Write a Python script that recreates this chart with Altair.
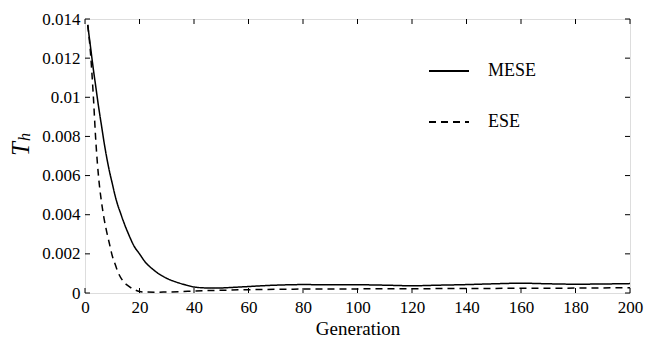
import altair as alt
import pandas as pd

# ---- data ----
mese_gen = [1, 2, 3, 4, 5, 6, 7, 8, 9, 10, 11, 12, 13, 14, 16, 18, 20, 22, 25, 28, 30, 33, 36, 40,
            44, 48, 52, 56, 60, 65, 70, 75, 80, 90, 100, 110, 120, 130, 140, 150, 160, 170, 180,
            190, 200]
mese_val = [0.0137, 0.0126, 0.0115, 0.0105, 0.0095, 0.0086, 0.0077, 0.0069, 0.0062, 0.0056, 0.0050,
            0.0045, 0.0041, 0.0037, 0.0030, 0.0024, 0.0020, 0.0016, 0.0012, 0.0009, 0.00075,
            0.00058, 0.00045, 0.00031, 0.00026, 0.00025, 0.00027, 0.00030, 0.00033, 0.00037,
            0.00040, 0.00042, 0.00043, 0.00042, 0.00042, 0.00040, 0.00037, 0.00040, 0.00043,
            0.00047, 0.00050, 0.00047, 0.00045, 0.00046, 0.00048]

ese_gen = [1, 2, 3, 4, 5, 6, 7, 8, 9, 10, 11, 12, 14, 16, 18, 20, 22, 26, 30, 35, 40, 50, 60, 80,
           100, 120, 140, 160, 180, 200]
ese_val = [0.0137, 0.0123, 0.0102, 0.0077, 0.0059, 0.0047, 0.0038, 0.0031, 0.0025, 0.0019, 0.0015,
           0.0011, 0.0006, 0.00035, 0.00018, 0.00008, 0.00005, 0.00004, 0.00005, 0.00007, 0.0001,
           0.00014, 0.00017, 0.0002, 0.00021, 0.00022, 0.00023, 0.00024, 0.00025, 0.00027]

x_ticks = [0, 20, 40, 60, 80, 100, 120, 140, 160, 180, 200]
y_ticks = [0, 0.002, 0.004, 0.006, 0.008, 0.01, 0.012, 0.014]
series = ["MESE", "ESE"]

W, H = 545, 274
FONT = "Times New Roman"

df = pd.concat([
    pd.DataFrame({"gen": mese_gen, "val": mese_val, "series": series[0]}),
    pd.DataFrame({"gen": ese_gen, "val": ese_val, "series": series[1]}),
])

xs = alt.Scale(domain=[0, 200], nice=False, zero=False)
ys = alt.Scale(domain=[0, 0.014], nice=False)

x_axis = alt.Axis(values=x_ticks, ticks=False, domain=False, grid=False,
                  labelFlush=False, labelOverlap=False,
                  labelFont=FONT, labelFontSize=17, labelColor="black", labelPadding=6,
                  titleFont=FONT, titleFontSize=19, titleFontWeight="normal",
                  titleColor="black", titlePadding=4)
y_axis = alt.Axis(values=y_ticks, ticks=False, domain=False, grid=False, format="~g",
                  labelFlush=False, labelOverlap=False,
                  labelFont=FONT, labelFontSize=17, labelColor="black", labelPadding=5)

lines = alt.Chart(df).mark_line(strokeWidth=1.5, color="black", interpolate="monotone").encode(
    x=alt.X("gen:Q", scale=xs, title="Generation", axis=x_axis),
    y=alt.Y("val:Q", scale=ys, title=None, axis=y_axis),
    strokeDash=alt.StrokeDash("series:N", scale=alt.Scale(domain=series, range=[[1, 0], [7, 5]]),
                              legend=alt.Legend(title=None, orient="none", legendX=343, legendY=31,
                                                symbolType="stroke", symbolSize=1600,
                                                symbolStrokeWidth=2, symbolStrokeColor="black",
                                                labelFont=FONT, labelFontSize=18, labelColor="black",
                                                labelOffset=18, rowPadding=21, padding=0)),
)

xt = pd.DataFrame({"t": x_ticks})
yt = pd.DataFrame({"t": y_ticks})
tick_style = dict(color="black", strokeWidth=1)
xb = alt.Chart(xt).mark_rule(**tick_style).encode(
    x=alt.X("t:Q", scale=xs, title="Generation", axis=x_axis), y=alt.value(H), y2=alt.value(H - 5))
xtp = alt.Chart(xt).mark_rule(**tick_style).encode(
    x=alt.X("t:Q", scale=xs, title="Generation", axis=x_axis), y=alt.value(0), y2=alt.value(5))
yl = alt.Chart(yt).mark_rule(**tick_style).encode(
    y=alt.Y("t:Q", scale=ys, title=None, axis=y_axis), x=alt.value(0), x2=alt.value(5))
yr = alt.Chart(yt).mark_rule(**tick_style).encode(
    y=alt.Y("t:Q", scale=ys, title=None, axis=y_axis), x=alt.value(W), x2=alt.value(W - 5))

tlab = alt.Chart(pd.DataFrame({"s": ["T"]})).mark_text(
    font=FONT, fontSize=25, fontStyle="italic", angle=270, color="black",
    align="center", baseline="middle").encode(text="s:N", x=alt.value(-64), y=alt.value(130))
hlab = alt.Chart(pd.DataFrame({"s": ["h"]})).mark_text(
    font=FONT, fontSize=16, fontStyle="italic", angle=270, color="black",
    align="center", baseline="middle").encode(text="s:N", x=alt.value(-60), y=alt.value(118))

chart = alt.layer(lines, xb, xtp, yl, yr, tlab, hlab).properties(
    width=W, height=H,
    autosize=alt.AutoSizeParams(type="none"),
    padding={"left": 77, "top": 11, "right": 18, "bottom": 45},
).configure_view(stroke="black", strokeWidth=1.3).configure(background="white")

chart.save("out.html", embed_options={"renderer": "svg", "actions": False})
